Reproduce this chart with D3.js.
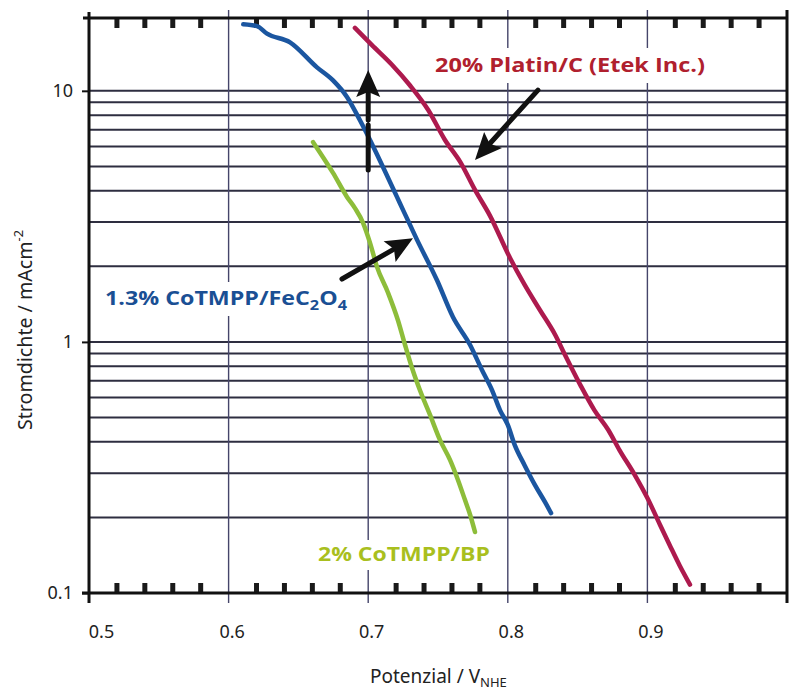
<!DOCTYPE html>
<html>
<head>
<meta charset="utf-8">
<script src="https://cdn.jsdelivr.net/npm/d3@7.9.0/dist/d3.min.js"></script>
<style>
  body { margin: 0; background: #fff; }
  svg { display: block; font-family: "Noto Sans", "Open Sans", sans-serif; }
</style>
</head>
<body>
<svg width="789" height="692"></svg>
<script>
// curves: potential (V vs NHE), current density (mA/cm2)
const platinX = [0.6905, 0.7027, 0.717, 0.730, 0.743, 0.755, 0.766, 0.7765, 0.787, 0.8016, 0.812, 0.823,
  0.834, 0.841, 0.852, 0.862, 0.872, 0.880, 0.891, 0.900, 0.909, 0.916, 0.923, 0.9305];
const platinY = [17.8, 15.2, 12.7, 10.5, 8.39, 6.37, 5.20, 4.03, 3.20, 2.16, 1.69, 1.34,
  1.065, 0.887, 0.673, 0.535, 0.446, 0.371, 0.295, 0.239, 0.187, 0.155, 0.129, 0.108];

const feX = [0.6105, 0.6203, 0.6275, 0.644, 0.6633, 0.6748, 0.6848, 0.694, 0.7013, 0.7106, 0.7206, 0.725,
  0.735, 0.7493, 0.7607, 0.773, 0.7815, 0.7887, 0.7944, 0.800, 0.805, 0.812, 0.8195, 0.8267, 0.831];
const feY = [18.4, 18.1, 16.9, 15.6, 12.4, 11.0, 9.45, 7.65, 6.37, 4.97, 3.78, 3.35,
  2.55, 1.76, 1.256, 0.972, 0.773, 0.643, 0.535, 0.467, 0.388, 0.323, 0.269, 0.230, 0.208];

const bpX = [0.6605, 0.6748, 0.6848, 0.6905, 0.6963, 0.7013, 0.7063, 0.7142, 0.7213, 0.7264, 0.7314,
  0.737, 0.7443, 0.7514, 0.7586, 0.7643, 0.7693, 0.773, 0.7765];
const bpY = [6.25, 4.71, 3.78, 3.41, 2.98, 2.48, 1.99, 1.57, 1.22, 0.972, 0.787,
  0.643, 0.512, 0.407, 0.339, 0.282, 0.235, 0.205, 0.175];

const xTicks = [0.5, 0.6, 0.7, 0.8, 0.9];
const xGrid = [0.6, 0.7, 0.8, 0.9];
const yTicks = [0.1, 1, 10];
const yGrid = [0.2, 0.3, 0.4, 0.5, 0.6, 0.7, 0.8, 0.9, 1, 2, 3, 4, 5, 6, 7, 8, 9, 10];
const minorX = [0.52, 0.54, 0.56, 0.58, 0.62, 0.64, 0.66, 0.68, 0.72, 0.74, 0.76, 0.78,
  0.82, 0.84, 0.86, 0.88, 0.92, 0.94, 0.96, 0.98];

const svg = d3.select('svg');
const x = d3.scaleLinear().domain([0.5, 1.0]).range([89, 787]);
const y = d3.scaleLog().domain([0.1, 19.5]).range([593, 18]);
const yTop = y.range()[1], yBot = y.range()[0];

// horizontal grid
svg.append('g').selectAll('line').data(yGrid).join('line')
  .attr('x1', x(0.5)).attr('x2', x(1.0))
  .attr('y1', d => y(d)).attr('y2', d => y(d))
  .attr('stroke', '#2e2e40').attr('stroke-width', 2);

// vertical grid
svg.append('g').selectAll('line').data(xGrid).join('line')
  .attr('x1', d => x(d)).attr('x2', d => x(d))
  .attr('y1', yTop - 8).attr('y2', yBot + 10)
  .attr('stroke', '#45456a').attr('stroke-width', 1.4);

// white boxes behind labels
const boxes = [[430, 48, 282, 35], [100, 282, 252, 34], [312, 540, 184, 30]];
svg.append('g').selectAll('rect').data(boxes).join('rect')
  .attr('x', d => d[0]).attr('y', d => d[1]).attr('width', d => d[2]).attr('height', d => d[3])
  .attr('fill', '#fff');

// inward minor ticks on top and bottom
const tickG = svg.append('g');
tickG.selectAll('line.tt').data(minorX).join('line').attr('class', 'tt')
  .attr('x1', d => x(d)).attr('x2', d => x(d)).attr('y1', yTop).attr('y2', yTop + 10)
  .attr('stroke', '#1a1a1a').attr('stroke-width', 5);
tickG.selectAll('line.bt').data(minorX).join('line').attr('class', 'bt')
  .attr('x1', d => x(d)).attr('x2', d => x(d)).attr('y1', yBot).attr('y2', yBot - 10)
  .attr('stroke', '#1a1a1a').attr('stroke-width', 5);

// frame
const frame = svg.append('g').attr('stroke', '#111').attr('stroke-width', 3);
frame.append('line').attr('x1', x(0.5) - 6).attr('x2', x(1.0)).attr('y1', yTop).attr('y2', yTop);
frame.append('line').attr('x1', x(0.5) - 7).attr('x2', x(1.0)).attr('y1', yBot).attr('y2', yBot);
frame.append('line').attr('x1', x(0.5)).attr('x2', x(0.5)).attr('y1', yTop - 6).attr('y2', yBot + 10);
frame.append('line').attr('x1', x(1.0)).attr('x2', x(1.0)).attr('y1', yTop - 8).attr('y2', yBot + 10);

// y axis
const yAxis = svg.append('g').attr('transform', `translate(${x(0.5)},0)`)
  .call(d3.axisLeft(y).tickValues(yTicks).tickFormat(d3.format('~g')).tickSize(7).tickPadding(9));
yAxis.select('.domain').remove();
yAxis.selectAll('line').attr('stroke', '#111').attr('stroke-width', 2);
yAxis.selectAll('text').attr('font-size', 18).attr('fill', '#222')
  .attr('font-family', '"Noto Sans", sans-serif');

// x axis labels
const xAxis = svg.append('g').attr('transform', `translate(0,${yBot})`)
  .call(d3.axisBottom(x).tickValues(xTicks).tickFormat(d3.format('.1f')).tickSize(0).tickPadding(32));
xAxis.select('.domain').remove();
xAxis.selectAll('text').attr('font-size', 18).attr('fill', '#222').attr('dx', d => d === 0.5 ? 12 : 3)
  .attr('font-family', '"Noto Sans", sans-serif');

// curves
const line = d3.line().x(d => x(d[0])).y(d => y(d[1])).curve(d3.curveMonotoneX);
const series = [
  { xs: platinX, ys: platinY, color: '#ad1a4e' },
  { xs: feX, ys: feY, color: '#1b56a0' },
  { xs: bpX, ys: bpY, color: '#8dbd3a' }
];
svg.append('g').selectAll('path').data(series).join('path')
  .attr('d', s => line(s.xs.map((v, i) => [v, s.ys[i]])))
  .attr('fill', 'none').attr('stroke', s => s.color)
  .attr('stroke-width', 4.5).attr('stroke-linecap', 'round').attr('stroke-linejoin', 'round');

// arrows
function arrow(x0, y0, x1, y1, dash) {
  const px0 = x(x0), py0 = y(y0), px1 = x(x1), py1 = y(y1);
  const a = Math.atan2(py1 - py0, px1 - px0);
  const hl = 27, hw = 12;
  const bx = px1 - hl * Math.cos(a), by = py1 - hl * Math.sin(a);
  const g = svg.append('g');
  g.append('line').attr('x1', px0).attr('y1', py0).attr('x2', bx + 4 * Math.cos(a)).attr('y2', by + 4 * Math.sin(a))
    .attr('stroke', '#111').attr('stroke-width', 5).attr('stroke-linecap', 'round')
    .attr('stroke-dasharray', dash || null);
  g.append('path')
    .attr('d', `M${px1},${py1}L${bx - hw * Math.sin(a)},${by + hw * Math.cos(a)}L${bx + 5 * Math.cos(a)},${by + 5 * Math.sin(a)}L${bx + hw * Math.sin(a)},${by - hw * Math.cos(a)}Z`)
    .attr('fill', '#111');
}
arrow(0.7, 4.84, 0.7, 12.1, '45 5');
arrow(0.8216, 10.07, 0.7765, 5.30);
arrow(0.6812, 1.78, 0.7321, 2.59);

// labels
const lab = svg.append('g').attr('font-family', '"Open Sans", sans-serif').attr('font-weight', 'bold').attr('font-size', 20);
lab.append('text').attr('x', 435).attr('y', 72).attr('fill', '#b0202e')
  .attr('textLength', 270).attr('lengthAdjust', 'spacingAndGlyphs').text('20% Platin/C (Etek Inc.)');
const feLab = lab.append('text').attr('x', 105).attr('y', 305).attr('fill', '#1a4f94')
  .attr('textLength', 242).attr('lengthAdjust', 'spacingAndGlyphs');
feLab.append('tspan').text('1.3% CoTMPP/FeC');
feLab.append('tspan').attr('font-size', 14).attr('dy', 5).text('2');
feLab.append('tspan').attr('dy', -5).text('O');
feLab.append('tspan').attr('font-size', 14).attr('dy', 5).text('4');
lab.append('text').attr('x', 318).attr('y', 561).attr('fill', '#a9bf1e')
  .attr('textLength', 172).attr('lengthAdjust', 'spacingAndGlyphs').text('2% CoTMPP/BP');

// axis titles
const yTitle = svg.append('text').attr('transform', 'translate(32,330) rotate(-90)')
  .attr('text-anchor', 'middle').attr('font-size', 20).attr('fill', '#222')
  .attr('textLength', 200).attr('lengthAdjust', 'spacingAndGlyphs');
yTitle.append('tspan').text('Stromdichte / mAcm');
yTitle.append('tspan').attr('font-size', 13).attr('dy', -9).text('-2');

const xTitle = svg.append('text').attr('x', 370).attr('y', 683).attr('font-size', 19).attr('fill', '#222');
xTitle.append('tspan').text('Potenzial / V');
xTitle.append('tspan').attr('font-size', 13).attr('dy', 4).text('NHE');
</script>
</body>
</html>
